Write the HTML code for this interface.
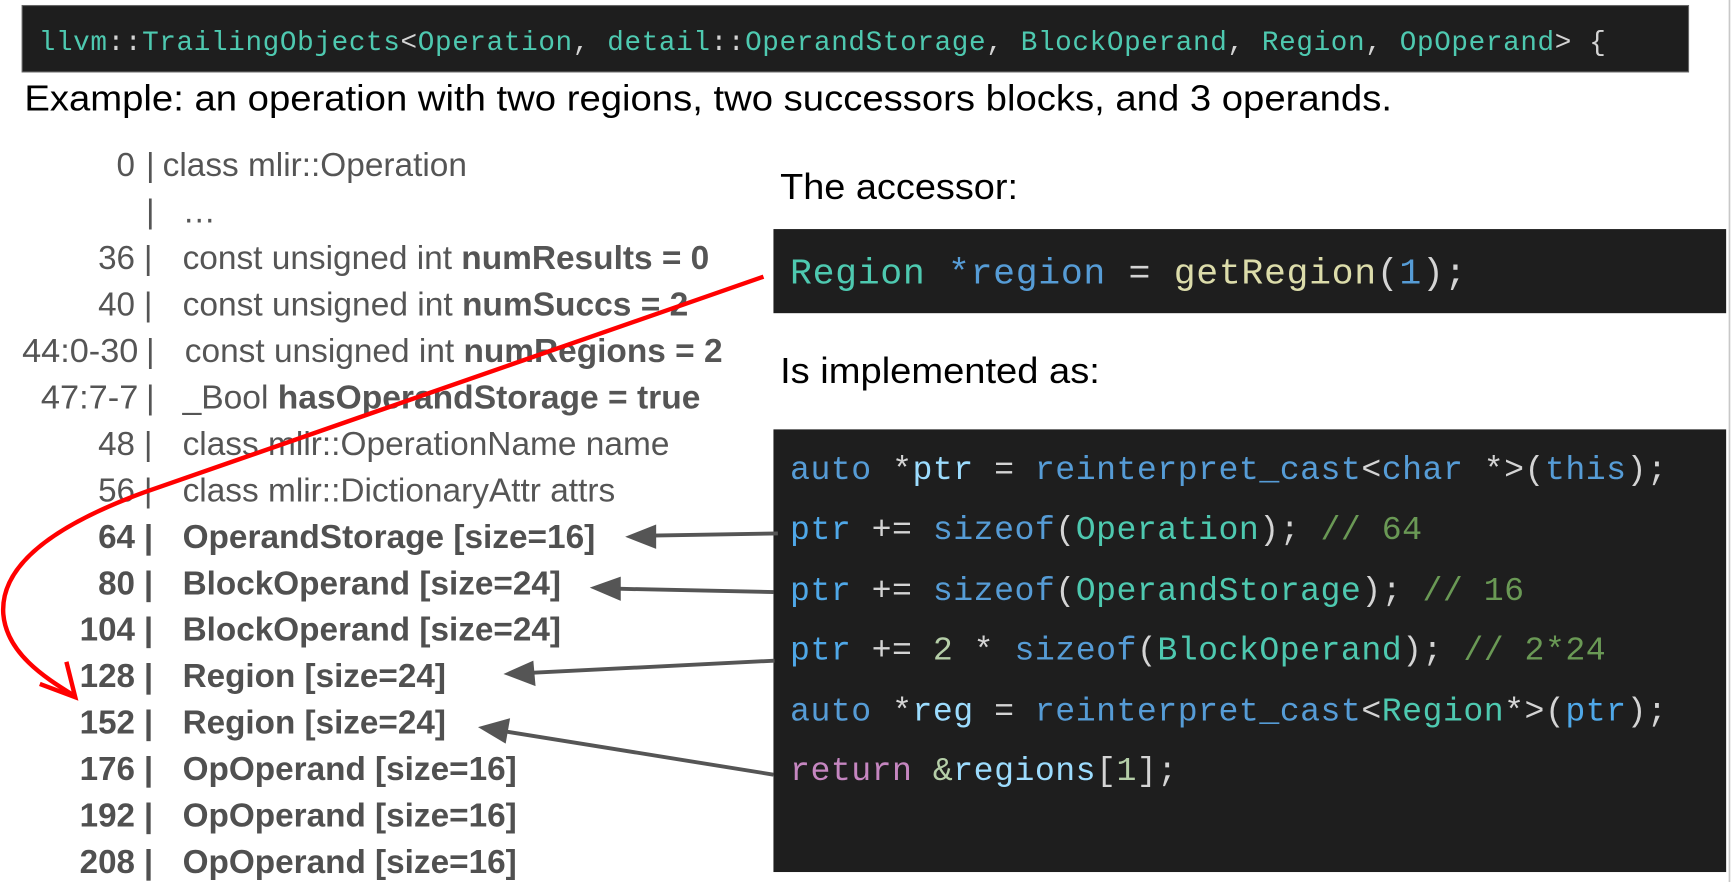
<!DOCTYPE html>
<html><head><meta charset="utf-8"><style>
html,body{margin:0;padding:0;background:#fff;width:1735px;height:882px;overflow:hidden}
svg{display:block}
.m{font-family:"Liberation Mono",monospace}
.s{font-family:"Liberation Sans",Arial,sans-serif}
</style></head><body>
<svg width="1735" height="882" viewBox="0 0 1568 797" preserveAspectRatio="none" xmlns="http://www.w3.org/2000/svg">
<rect x="0" y="0" width="1568" height="797" fill="#fff"/>
<line x1="1563" y1="0" x2="1563" y2="797" stroke="#c8c8c8" stroke-width="1.5"/>
<!-- top bar -->
<rect x="20" y="5" width="1506" height="60" fill="#1e1e1e" stroke="#666" stroke-width="1"/>
<text class="m" x="35" y="45" font-size="25" letter-spacing="0.57" xml:space="preserve" fill="#d4d4d4"><tspan fill="#4ec9b0">llvm</tspan>::<tspan fill="#4ec9b0">TrailingObjects</tspan>&lt;<tspan fill="#4ec9b0">Operation</tspan>, <tspan fill="#4ec9b0">detail</tspan>::<tspan fill="#4ec9b0">OperandStorage</tspan>, <tspan fill="#4ec9b0">BlockOperand</tspan>, <tspan fill="#4ec9b0">Region</tspan>, <tspan fill="#4ec9b0">OpOperand</tspan>&gt; {</text>
<text class="s" x="22" y="100" font-size="33" fill="#000" textLength="1236" lengthAdjust="spacingAndGlyphs">Example: an operation with two regions, two successors blocks, and 3 operands.</text>

<!-- left list -->
<g class="s" font-size="30" fill="#555">
<text x="122" y="159" text-anchor="end">0</text><text x="132" y="159">|</text><text x="147" y="159" textLength="275" lengthAdjust="spacingAndGlyphs">class mlir::Operation</text>
<text x="132" y="201">|</text><text x="165" y="201">…</text>
<text x="122" y="243" text-anchor="end">36</text><text x="130" y="243">|</text><text x="165" y="243" textLength="476" lengthAdjust="spacingAndGlyphs">const unsigned int <tspan font-weight="bold">numResults = 0</tspan></text>
<text x="122" y="285" text-anchor="end">40</text><text x="130" y="285">|</text><text x="165" y="285" textLength="457" lengthAdjust="spacingAndGlyphs">const unsigned int <tspan font-weight="bold">numSuccs = 2</tspan></text>
<text x="20" y="327" textLength="105" lengthAdjust="spacingAndGlyphs">44:0-30</text><text x="132" y="327">|</text><text x="167" y="327" textLength="486" lengthAdjust="spacingAndGlyphs">const unsigned int <tspan font-weight="bold">numRegions = 2</tspan></text>
<text x="37" y="369" textLength="88" lengthAdjust="spacingAndGlyphs">47:7-7</text><text x="132" y="369">|</text><text x="165" y="369" textLength="468" lengthAdjust="spacingAndGlyphs">_Bool <tspan font-weight="bold">hasOperandStorage = true</tspan></text>
<text x="122" y="411" text-anchor="end">48</text><text x="130" y="411">|</text><text x="165" y="411" textLength="440" lengthAdjust="spacingAndGlyphs">class mlir::OperationName name</text>
<text x="122" y="453" text-anchor="end">56</text><text x="130" y="453">|</text><text x="165" y="453" textLength="391" lengthAdjust="spacingAndGlyphs">class mlir::DictionaryAttr attrs</text>
</g>
<g class="s" font-size="30" fill="#505050" font-weight="bold">
<text x="122" y="495" text-anchor="end">64</text><text x="130" y="495">|</text><text x="165" y="495" textLength="373" lengthAdjust="spacingAndGlyphs">OperandStorage [size=16]</text>
<text x="122" y="537" text-anchor="end">80</text><text x="130" y="537">|</text><text x="165" y="537" textLength="342" lengthAdjust="spacingAndGlyphs">BlockOperand [size=24]</text>
<text x="122" y="579" text-anchor="end" textLength="50" lengthAdjust="spacingAndGlyphs">104</text><text x="130" y="579">|</text><text x="165" y="579" textLength="342" lengthAdjust="spacingAndGlyphs">BlockOperand [size=24]</text>
<text x="122" y="621" text-anchor="end" textLength="50" lengthAdjust="spacingAndGlyphs">128</text><text x="130" y="621">|</text><text x="165" y="621" textLength="238" lengthAdjust="spacingAndGlyphs">Region [size=24]</text>
<text x="122" y="663" text-anchor="end" textLength="50" lengthAdjust="spacingAndGlyphs">152</text><text x="130" y="663">|</text><text x="165" y="663" textLength="238" lengthAdjust="spacingAndGlyphs">Region [size=24]</text>
<text x="122" y="705" text-anchor="end" textLength="50" lengthAdjust="spacingAndGlyphs">176</text><text x="130" y="705">|</text><text x="165" y="705" textLength="302" lengthAdjust="spacingAndGlyphs">OpOperand [size=16]</text>
<text x="122" y="747" text-anchor="end" textLength="50" lengthAdjust="spacingAndGlyphs">192</text><text x="130" y="747">|</text><text x="165" y="747" textLength="302" lengthAdjust="spacingAndGlyphs">OpOperand [size=16]</text>
<text x="122" y="789" text-anchor="end" textLength="50" lengthAdjust="spacingAndGlyphs">208</text><text x="130" y="789">|</text><text x="165" y="789" textLength="302" lengthAdjust="spacingAndGlyphs">OpOperand [size=16]</text>
</g>

<!-- right -->
<text class="s" x="705" y="180" font-size="33" fill="#000" textLength="215" lengthAdjust="spacingAndGlyphs">The accessor:</text>
<rect x="699" y="207" width="861" height="76" fill="#1e1e1e"/>
<text class="m" x="714" y="256" font-size="33" letter-spacing="0.6" xml:space="preserve" fill="#d4d4d4"><tspan fill="#4ec9b0">Region</tspan> <tspan fill="#569cd6">*</tspan><tspan fill="#569cd6">region</tspan> = <tspan fill="#dcdcaa">getRegion</tspan>(<tspan fill="#569cd6">1</tspan>);</text>
<text class="s" x="705" y="346" font-size="33" fill="#000" textLength="289" lengthAdjust="spacingAndGlyphs">Is implemented as:</text>
<rect x="699" y="388" width="861" height="400" fill="#1e1e1e"/>
<g class="m" font-size="30" letter-spacing="0.44" fill="#d4d4d4">
<text x="714" y="433" xml:space="preserve"><tspan fill="#569cd6">auto</tspan> *<tspan fill="#9cdcfe">ptr</tspan> = <tspan fill="#569cd6">reinterpret_cast</tspan>&lt;<tspan fill="#569cd6">char</tspan> *&gt;(<tspan fill="#569cd6">this</tspan>);</text>
<text x="714" y="487" xml:space="preserve"><tspan fill="#4fa8e8">ptr</tspan> += <tspan fill="#569cd6">sizeof</tspan>(<tspan fill="#4ec9b0">Operation</tspan>); <tspan fill="#6a9955">// 64</tspan></text>
<text x="714" y="542" xml:space="preserve"><tspan fill="#4fa8e8">ptr</tspan> += <tspan fill="#569cd6">sizeof</tspan>(<tspan fill="#4ec9b0">OperandStorage</tspan>); <tspan fill="#6a9955">// 16</tspan></text>
<text x="714" y="596" xml:space="preserve"><tspan fill="#4fa8e8">ptr</tspan> += <tspan fill="#b5cea8">2</tspan> * <tspan fill="#569cd6">sizeof</tspan>(<tspan fill="#4ec9b0">BlockOperand</tspan>); <tspan fill="#6a9955">// 2*24</tspan></text>
<text x="714" y="651" xml:space="preserve"><tspan fill="#569cd6">auto</tspan> *<tspan fill="#9cdcfe">reg</tspan> = <tspan fill="#569cd6">reinterpret_cast</tspan>&lt;<tspan fill="#4ec9b0">Region</tspan>*&gt;(<tspan fill="#4fa8e8">ptr</tspan>);</text>
<text x="714" y="705" xml:space="preserve"><tspan fill="#c586c0">return</tspan> <tspan fill="#b5cea8">&amp;</tspan><tspan fill="#9cdcfe">regions</tspan>[<tspan fill="#b5cea8">1</tspan>];</text>
</g>

<!-- gray arrows -->
<g stroke="#555" stroke-width="3.5" fill="#555">
<line x1="703" y1="482" x2="590" y2="484"/>
<polygon points="565,485 593,474 593,496" stroke="none"/>
<line x1="699" y1="535" x2="558" y2="532"/>
<polygon points="533,531 561,521 561,543" stroke="none"/>
<line x1="700" y1="597" x2="480" y2="608"/>
<polygon points="455,609 482,597 484,620" stroke="none"/>
<line x1="699" y1="700" x2="457" y2="661"/>
<polygon points="432,657 461,649 457,672" stroke="none"/>
</g>

<!-- red curve -->
<path d="M690,250 L130,445 C40,478 0,515 3,555 C6,590 40,612 66,628" fill="none" stroke="#ff0000" stroke-width="4"/>
<path d="M36,618 L68,630 L60,598" fill="none" stroke="#ff0000" stroke-width="4" stroke-linejoin="miter"/>
</svg>
</body></html>
